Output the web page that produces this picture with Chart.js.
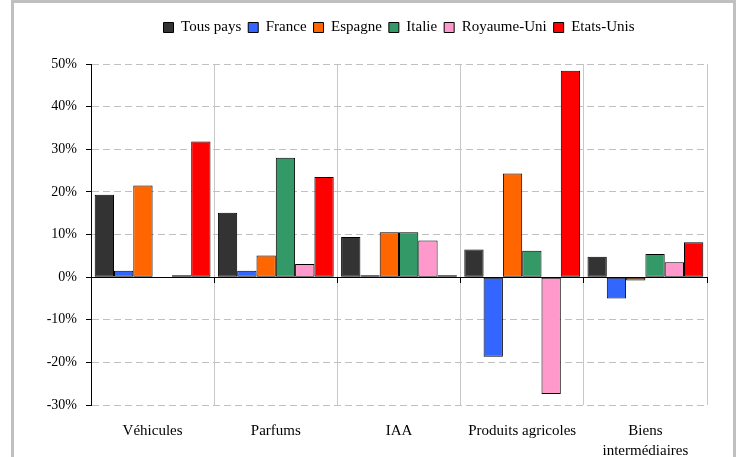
<!DOCTYPE html>
<html>
<head>
<meta charset="utf-8">
<script src="https://cdn.jsdelivr.net/npm/chart.js@4"></script>
<style>
  body { margin: 0; background: #fff; }
  #frame { position: absolute; left: 11px; top: 0; width: 719px; height: 470px; border: 3px solid #c0c0c0; }
  #wrap { position: absolute; left: 0; top: 0; width: 738px; height: 457px; }
</style>
</head>
<body>
<div id="frame"></div>
<div id="wrap"><canvas id="myChart"></canvas></div>
<script>
// categories and series (percent)
const categories = ["Véhicules", "Parfums", "IAA", "Produits agricoles", ["Biens", "intermédiaires"]];
const tousPays = [19.3, 15.1, 9.4, 6.5, 4.8];
const france = [1.5, 1.5, 0.2, -18.7, -5.0];
const espagne = [21.5, 5.1, 10.5, 24.3, -0.8];
const italie = [null, 28.0, 10.5, 6.2, 5.4];
const royaumeUni = [0.2, 3.1, 8.6, -27.4, 3.5];
const etatsUnis = [31.8, 23.5, 0.2, 48.4, 8.2];
const yTicks = [-30, -20, -10, 0, 10, 20, 30, 40, 50];

const serif = "'Liberation Serif', 'Times New Roman', serif";

function series(label, data, color) {
  return {
    label: label,
    data: data,
    backgroundColor: color,
    borderColor: "#000",
    borderWidth: 1,
    borderSkipped: false,
    minBarLength: 2,
    xAxisID: "x",
    yAxisID: "y",
  };
}

const data = {
  labels: categories,
  datasets: [
    series("Tous pays", tousPays, "#333333"),
    series("France", france, "#3366ff"),
    series("Espagne", espagne, "#ff6600"),
    series("Italie", italie, "#339966"),
    series("Royaume-Uni", royaumeUni, "#ff99cc"),
    series("Etats-Unis", etatsUnis, "#ff0000"),
  ],
};

// extra room under the legend
const legendSpace = {
  id: "legendSpace",
  afterInit(chart) {
    const fit = chart.legend.fit;
    chart.legend.fit = function () {
      fit.call(this);
      this.height += 19;
    };
  },
};

const config = {
  type: "bar",
  data,
  plugins: [legendSpace],
  options: {
    responsive: true,
    maintainAspectRatio: false,
    animation: false,
    categoryPercentage: 0.94,
    barPercentage: 1,
    layout: { padding: { left: 14, right: 31, top: 13, bottom: 0 } },
    plugins: {
      tooltip: { enabled: false },
      legend: {
        position: "top",
        fullSize: false,
        labels: {
          boxWidth: 10,
          boxHeight: 10,
          padding: 7,
          color: "#000",
          font: { family: serif, size: 15 },
        },
      },
    },
    scales: {
      x: {
        type: "category",
        position: { y: 0 },
        offset: true,
        grid: { offset: true, color: "#c8c8c8", tickColor: "#000", tickLength: 5 },
        border: { color: "#000", width: 1 },
        ticks: { display: false },
      },
      x2: {
        type: "category",
        position: "bottom",
        offset: true,
        grid: { display: false, drawTicks: false },
        border: { display: false },
        ticks: {
          color: "#000",
          padding: 16,
          maxRotation: 0,
          autoSkip: false,
          font: { family: serif, size: 15, lineHeight: 1.33 },
        },
        afterFit: (scale) => { scale.height = 52; },
      },
      y: {
        min: -30,
        max: 50,
        afterBuildTicks: (scale) => { scale.ticks = yTicks.map((v) => ({ value: v })); },
        grid: {
          color: (c) => (c.tick && c.tick.value === 0 ? "#000" : "#c0c0c0"),
          tickColor: "#000",
          tickLength: 5,
        },
        border: {
          color: "#000",
          width: 1,
          dash: (c) => (c.tick && c.tick.value !== 0 ? [7, 4] : []),
        },
        ticks: {
          color: "#000",
          padding: 9,
          font: { family: serif, size: 14 },
          callback: (v) => v + "%",
        },
        afterFit: (scale) => { scale.width = 77; },
      },
    },
  },
};

const myChart = new Chart(document.getElementById("myChart"), config);
</script>
</body>
</html>
